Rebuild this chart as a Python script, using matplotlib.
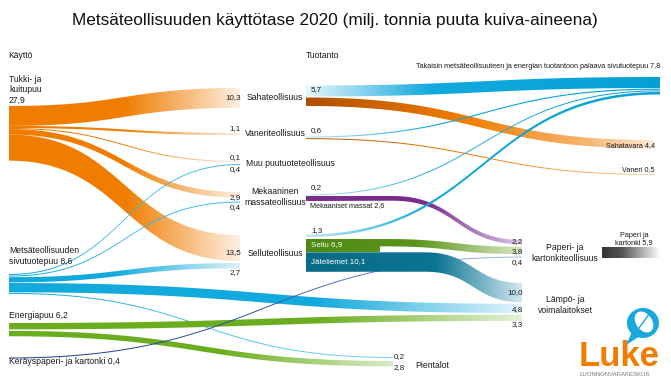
import numpy as np
import matplotlib.pyplot as plt
from matplotlib.patches import Polygon, Ellipse
from matplotlib.colors import to_rgb

plt.rcParams['font.family'] = ['Liberation Sans', 'DejaVu Sans']

W, H = 671, 386
S = 1.93  # px per milj. tonnia

# ---- data: käyttö (raw wood use) ----
use_src = ['Tukki', 'Tukki', 'Tukki', 'Tukki', 'Tukki',
           'Sivu', 'Sivu', 'Sivu', 'Sivu', 'Sivu',
           'Energia', 'Energia', 'Keräys']
use_dst = ['Saha', 'Vaneri', 'Muu', 'Mek', 'Sellu',
           'Muu', 'Mek', 'Sellu', 'Lampo', 'Pientalot',
           'Lampo', 'Pientalot', 'Paperi']
use_val = [10.3, 1.1, 0.1, 2.9, 13.5,
           0.4, 0.4, 2.7, 4.8, 0.2,
           3.3, 2.8, 0.4]

# ---- data: tuotanto (production) ----
prod_src = ['Saha', 'Saha', 'VaneriT', 'VaneriT', 'MekT', 'MekT', 'SelluT', 'SelluT', 'SelluT']
prod_dst = ['Takaisin', 'Sahatavara', 'Takaisin', 'VaneriP', 'Takaisin', 'Paperi',
            'Takaisin', 'Paperi', 'Lampo']
prod_out = [5.7, 4.4, 0.6, 0.5, 0.2, 2.6, 1.3, 6.9, 10.1]
prod_in = [5.7, 4.4, 0.6, 0.5, 0.2, 2.2, 1.3, 3.8, 10.0]
prod_names = ['', 'Sahatavara 4,4', '', 'Vaneri 0,5', '', 'Mekaaniset massat 2,6',
              '', 'Sellu 6,9', 'Jäteliemet 10,1']
paper_total = 5.9
takaisin_total = 7.8

# ---- layout: node anchors (x, top, gap between stacked flows) ----
out_nodes = {
    'Tukki': (9, 106, 0), 'Sivu': (9, 274, 0.6), 'Energia': (9, 323, 1.5),
    'Keräys': (9, 357.5, 0),
    'Saha': (306, 85.5, 1), 'VaneriT': (306, 136.5, 0.5), 'MekT': (306, 194.5, 0.5),
    'SelluT': (306, 234.5, [2, 0]),
}
in_nodes = {
    'Saha': (240, 88, 0), 'Vaneri': (240, 133, 0), 'Muu': (240, 161, 2),
    'Mek': (240, 192, 4), 'Sellu': (240, 235, 2),
    'Takaisin': (660, 77, 0.6), 'Sahatavara': (653, 140, 0), 'VaneriP': (655, 174, 0),
    'Paperi': (522, 240, 2.5), 'Lampo': (522, 283, 1.5), 'Pientalot': (393, 357, 3),
}

ORANGE = '#f07d00'
BLUE = '#12aadd'
GREEN = '#6aae1f'

orange_fade = [(0, ORANGE), (0.5, ORANGE), (1, '#fdf0e2')]
use_style = [orange_fade] * 5 + [
    [(0, BLUE), (1, '#4cc3ea')], [(0, BLUE), (1, '#4cc3ea')],
    [(0, BLUE), (0.45, BLUE), (1, '#dcf2fb')],
    [(0, BLUE), (0.6, BLUE), (1, '#e2f4fb')],
    [(0, BLUE), (1, '#7fd3f0')],
    [(0, GREEN), (0.6, GREEN), (1, '#e6f1d8')],
    [(0, GREEN), (0.55, GREEN), (1, '#dcebc8')],
    [(0, '#1d3c94'), (0.5, '#2b4ea6'), (1, '#a9c2ea')],
]
tak_fade = [(0, '#c6e9f7'), (0.35, BLUE), (1, '#04a0d4')]
prod_style = [
    [(0, '#e6f6fc'), (0.35, BLUE), (1, '#04a0d4')],
    [(0, '#b04e00'), (0.45, ORANGE), (0.8, '#f6b46e'), (1, '#fde8d2')],
    tak_fade,
    [(0, '#c05a00'), (0.5, ORANGE), (1, '#fbd6ae')],
    tak_fade,
    [(0, '#7a2c8c'), (0.55, '#7a2c8c'), (1, '#dcc8e6')],
    tak_fade,
    [(0, '#4d8912'), (0.5, '#5a9318'), (1, '#d8e8c3')],
    [(0, '#0a6b86'), (0.6, '#0b7492'), (1, '#d2e8f0')],
]
# where the curve starts/ends for production flows, plus straight bar lengths
prod_curve = [None, None, None, None, None, (392, 522), None, (385, 522), (425, 522)]
prod_bar = [None, None, None, None, None, None, None, 380, None]


def width(v):
    return max(v * S, 1.0)


def grad(stops, n=256):
    pos = np.array([p for p, _ in stops])
    cols = np.array([to_rgb(c) for _, c in stops])
    xx = np.linspace(0, 1, n)
    rgb = np.stack([np.interp(xx, pos, cols[:, k]) for k in range(3)], axis=-1)
    return rgb[None, :, :]


def ribbon(ax, x0, x1, y0, y1, w0, w1, stops, curve=None):
    xa, xb = curve if curve else (x0, x1)
    t = np.linspace(0, 1, 150)
    xc = xa + (xb - xa) * (1.5 * t * (1 - t) + t ** 3)
    yc = y0 + (y1 - y0) * (3 * t ** 2 - 2 * t ** 3)
    xs = np.concatenate([[x0], xc, [x1]])
    yt = np.concatenate([[y0], yc, [y1]])
    w = w0 + (w1 - w0) * (xs - x0) / (x1 - x0)
    pts = np.vstack([np.column_stack([xs, yt]), np.column_stack([xs, yt + w])[::-1]])
    poly = Polygon(pts, closed=True, facecolor='none', edgecolor='none')
    ax.add_patch(poly)
    im = ax.imshow(grad(stops), extent=(x0, x1, yt.min() - 1, (yt + w).max() + 1),
                   aspect='auto', interpolation='bilinear', zorder=2)
    im.set_clip_path(poly)


# ---- build flows ----
flows = []
for s, d, v, st in zip(use_src, use_dst, use_val, use_style):
    flows.append(dict(src=s, dst=d, v0=v, v1=v, st=st, curve=None, bar=None))
for s, d, a, b, st, c, br in zip(prod_src, prod_dst, prod_out, prod_in, prod_style,
                                 prod_curve, prod_bar):
    flows.append(dict(src=s, dst=d, v0=a, v1=b, st=st, curve=c, bar=br))


def gaplist(g, n):
    return g if isinstance(g, list) else [g] * n


for name, (x, top, gap) in out_nodes.items():
    outs = sorted([f for f in flows if f['src'] == name], key=lambda f: in_nodes[f['dst']][1])
    gl = gaplist(gap, len(outs))
    y = top
    for i, f in enumerate(outs):
        f['x0'], f['y0'] = x, y
        y += width(f['v0']) + (gl[i] if i < len(gl) else 0)

for name, (x, top, gap) in in_nodes.items():
    ins = sorted([f for f in flows if f['dst'] == name], key=lambda f: out_nodes[f['src']][1])
    gl = gaplist(gap, len(ins))
    y = top
    for i, f in enumerate(ins):
        f['x1'], f['y1'] = x, y
        y += width(f['v1']) + (gl[i] if i < len(gl) else 0)

fig = plt.figure(figsize=(W / 100, H / 100), dpi=100)
ax = fig.add_axes([0, 0, 1, 1])
ax.axis('off')

for f in flows:
    if f['bar']:
        ribbon(ax, f['x0'], f['bar'], f['y0'], f['y0'], width(f['v0']), width(f['v0']),
               [(0, f['st'][0][1]), (1, f['st'][1][1])])
    w0 = width(f['v1']) if f['bar'] else width(f['v0'])
    ribbon(ax, f['x0'], f['x1'], f['y0'], f['y1'], w0, width(f['v1']), f['st'], f['curve'])

# paper & board product bar
ribbon(ax, 602, 660, 247, 247, paper_total * S, paper_total * S,
       [(0, '#333333'), (0.35, '#555555'), (1, '#ffffff')])

# ---- text ----
TXT = '#1a1a1a'
ax.text(335, 20, 'Metsäteollisuuden käyttötase 2020 (milj. tonnia puuta kuiva-aineena)',
        ha='center', va='center', fontsize=12.4, color='#111111')
ax.text(8, 56, 'Käyttö', fontsize=6.2, va='center', color=TXT)
ax.text(306, 56, 'Tuotanto', fontsize=6.2, va='center', color=TXT)

lab = dict(fontsize=6.2, color=TXT, va='center')
ax.text(9, 90, 'Tukki- ja\nkuitupuu\n27,9', linespacing=1.15, **lab)
ax.text(9, 256, 'Metsäteollisuuden\nsivutuotepuu 8,6', linespacing=1.2, **lab)
ax.text(9, 316, 'Energiapuu 6,2', **lab)
ax.text(9, 361, 'Keräyspaperi- ja kartonki 0,4', **lab)

ax.text(275, 97, 'Sahateollisuus', ha='center', **lab)
ax.text(275, 134, 'Vaneriteollisuus', ha='center', **lab)
ax.text(246, 164, 'Muu puutuoteteollisuus', ha='left', **lab)
ax.text(275, 197, 'Mekaaninen\nmassateollisuus', ha='center', linespacing=1.2, **lab)
ax.text(275, 254, 'Selluteollisuus', ha='center', **lab)
ax.text(565, 253, 'Paperi- ja\nkartonkiteollisuus', ha='center', linespacing=1.2, **lab)
ax.text(565, 305, 'Lämpö- ja\nvoimalaitokset', ha='center', linespacing=1.2, **lab)
ax.text(415, 365, 'Pientalot', ha='left', **lab)

num = dict(fontsize=5.8, color=TXT, va='center')
fmt = lambda v: f'{v:.1f}'.replace('.', ',')
# values at the ends of käyttö flows
use_lab_y = [98, 129, 158, 198, 253, 170, 208, 273, 310, 357, 325, 368, 263]
for f, yl in zip(flows[:len(use_val)], use_lab_y):
    xr = f['x1'] + (12 if f['dst'] == 'Pientalot' else 1)
    ax.text(xr, yl, fmt(f['v1']), ha='right', **num)
# values at the start of flows back to production
prod_lab_y = [90, None, 131, None, 188, None, 231, None, None]
for f, yl in zip(flows[len(use_val):], prod_lab_y):
    if yl:
        ax.text(311, yl, fmt(f['v0']), ha='left', **num)
ax.text(523, 242, fmt(prod_in[5]), ha='right', **num)
ax.text(523, 252, fmt(prod_in[7]), ha='right', **num)
ax.text(523, 293, fmt(prod_in[8]), ha='right', **num)

small = dict(fontsize=5.2, color=TXT, va='center')
ax.text(310, 206, prod_names[5], ha='left', **small)
ax.text(655, 146, prod_names[1], ha='right', **small)
ax.text(655, 170, prod_names[3], ha='right', **small)
ax.text(660, 67, 'Takaisin metsäteollisuuteen ja energian tuotantoon palaava '
        f'sivutuotepuu {fmt(takaisin_total)}', ha='right', **small)
ax.text(634, 239, f'Paperi ja\nkartonki {fmt(paper_total)}', ha='center',
        linespacing=1.15, **small)
ax.text(311, 245, prod_names[7], ha='left', fontsize=5.8, color='white', va='center', zorder=5)
ax.text(311, 262, prod_names[8], ha='left', fontsize=5.8, color='white', va='center', zorder=5)

# ---- Luke logo ----
ax.text(579, 366, 'Luke', fontsize=25, fontweight='bold', color=ORANGE, ha='left',
        va='baseline')
ax.text(580, 374, 'LUONNONVARAKESKUS', fontsize=4.3, color='#777777', ha='left', va='center')
ax.add_patch(Ellipse((643, 323), 32, 30, facecolor='#18a8dc', edgecolor='none', zorder=3))
ax.add_patch(Polygon([[632, 332], [626, 345], [640, 336]], closed=True,
                     facecolor='#18a8dc', edgecolor='none', zorder=3))
ax.add_patch(Ellipse((644, 322), 16, 23, angle=-35, facecolor='white', edgecolor='none',
                     zorder=4))
ax.plot([636, 650], [332, 313], color='#18a8dc', lw=1.0, zorder=5)

ax.set_xlim(0, W)
ax.set_ylim(H, 0)
fig.savefig('out.png', dpi=100)
